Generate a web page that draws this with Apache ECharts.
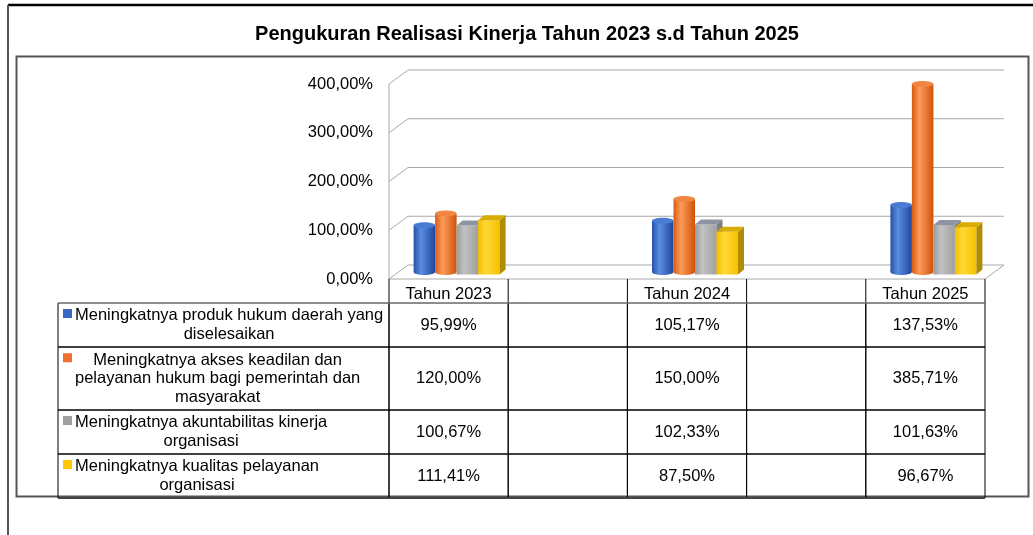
<!DOCTYPE html>
<html>
<head>
<meta charset="utf-8">
<script src="https://cdn.jsdelivr.net/npm/echarts@6/dist/echarts.min.js"></script>
<style>
  html, body { margin: 0; padding: 0; background: #fff; }
  #main { width: 1033px; height: 535px; }
</style>
</head>
<body>
<div id="main"></div>
<script>
// data (blank categories are the empty spacer columns of the original sheet)
const categories = ['Tahun 2023', '', 'Tahun 2024', '', 'Tahun 2025'];
const seriesNames = [
  'Meningkatnya produk hukum daerah yang\ndiselesaikan',
  'Meningkatnya akses keadilan dan\npelayanan hukum bagi pemerintah dan\nmasyarakat',
  'Meningkatnya akuntabilitas kinerja\norganisasi',
  'Meningkatnya kualitas pelayanan\norganisasi'
];
const produkHukum = [95.99, null, 105.17, null, 137.53];
const aksesKeadilan = [120.00, null, 150.00, null, 385.71];
const akuntabilitas = [100.67, null, 102.33, null, 101.63];
const kualitasPelayanan = [111.41, null, 87.50, null, 96.67];
const yTicks = [0, 100, 200, 300, 400];

const seriesValues = [produkHukum, aksesKeadilan, akuntabilitas, kualitasPelayanan];

// looks
const FONT = '"Liberation Sans", Arial, sans-serif';
const FS = 16.5;
const styles = [
  { shape: 'cyl', key: '#3a66c6', grad: ['#2650aa', '#5a8de2', '#21469a'], top: '#4a7cd4' },
  { shape: 'cyl', key: '#f07030', grad: ['#dc5a12', '#fb9c5a', '#d0520a'], top: '#f08642' },
  { shape: 'box', key: '#a0a0a0', grad: ['#9a9a9a', '#c2c2c2', '#a0a0a0'], top: '#8d95a5', side: '#7e7e7e' },
  { shape: 'box', key: '#ffc800', grad: ['#f4be00', '#ffd836', '#f6c200'], top: '#d8ac00', side: '#b08c06' }
];
const DX = 19, DY = -14;   // depth of the 3d floor
const BW = 21.5;           // bar width
const headerH = 24;
const rowHeights = [44, 63, 44, 44];
const labelLeft = 58, textLeft = 75, lineH = 18.5;

const fmt = v => v.toFixed(2).replace('.', ',') + '%';

const measure = document.createElement('canvas').getContext('2d');
measure.font = FS + 'px ' + FONT;

const myChart = echarts.init(document.getElementById('main'));

function grad(c) {
  return new echarts.graphic.LinearGradient(0, 0, 1, 0, [
    { offset: 0, color: c[0] }, { offset: 0.35, color: c[1] }, { offset: 1, color: c[2] }
  ]);
}

// back wall + floor lines
function renderFrame(params, api) {
  const t = api.value(1);
  const colW = api.size([1, 0])[0];
  const p = api.coord([0, t]);
  const x0 = p[0] - colW / 2;
  const x1 = api.coord([categories.length - 1, t])[0] + colW / 2;
  const y = p[1];
  const ln = { stroke: '#a8a8a8', lineWidth: 1 };
  const children = [
    { type: 'line', shape: { x1: x0 + DX, y1: y + DY, x2: x1 + DX, y2: y + DY }, style: ln },
    { type: 'line', shape: { x1: x0, y1: y, x2: x0 + DX, y2: y + DY }, style: ln }
  ];
  if (t === 0) {
    const yTop = api.coord([0, yTicks[yTicks.length - 1]])[1];
    children.push(
      { type: 'line', shape: { x1: x1, y1: y, x2: x1 + DX, y2: y + DY }, style: ln },
      { type: 'line', shape: { x1: x0, y1: y, x2: x1, y2: y }, style: ln },
      { type: 'line', shape: { x1: x0, y1: y, x2: x0, y2: yTop }, style: ln }
    );
  }
  return { type: 'group', children: children };
}

function makeBarRenderer(i) {
  const st = styles[i];
  return function (params, api) {
    const c = api.value(0), v = api.value(1);
    const cx = api.coord([c, 0])[0];
    const base = api.coord([c, 0])[1] - 7;
    const top = api.coord([c, v])[1] - 7;
    const left = cx - 2 * BW + i * BW + 8;
    if (st.shape === 'cyl') {
      return {
        type: 'group', children: [
          { type: 'ellipse', shape: { cx: left + BW / 2, cy: base, rx: BW / 2, ry: 3 }, style: { fill: grad(st.grad) } },
          { type: 'rect', shape: { x: left, y: top, width: BW, height: base - top }, style: { fill: grad(st.grad) } },
          { type: 'ellipse', shape: { cx: left + BW / 2, cy: top, rx: BW / 2, ry: 3 }, style: { fill: st.top } }
        ]
      };
    }
    const fb = base + 2.5, ft = top + 2.5, bx = 6, by = -5;
    return {
      type: 'group', children: [
        { type: 'rect', shape: { x: left, y: ft, width: BW, height: fb - ft }, style: { fill: grad(st.grad) } },
        { type: 'polygon', shape: { points: [[left + BW, ft], [left + BW + bx, ft + by], [left + BW + bx, fb + by], [left + BW, fb]] }, style: { fill: st.side } },
        { type: 'polygon', shape: { points: [[left, ft], [left + bx, ft + by], [left + BW + bx, ft + by], [left + BW, ft]] }, style: { fill: st.top } }
      ]
    };
  };
}

// data table under the axis
function renderTableRow(params, api) {
  const r = api.value(2);
  const colW = api.size([1, 0])[0];
  const y0 = api.coord([0, 0])[1];
  const xs = categories.map((_, c) => api.coord([c, 0])[0] - colW / 2);
  xs.push(xs[xs.length - 1] + colW);
  let top = y0 + headerH;
  for (let k = 0; k < r; k++) top += rowHeights[k];
  const h = rowHeights[r];
  const black = { stroke: '#000', lineWidth: 1, fill: null };
  const children = [];

  if (r === 0) {
    xs.forEach(x => children.push({ type: 'line', shape: { x1: x, y1: y0, x2: x, y2: top }, style: { stroke: '#000', lineWidth: 1 } }));
  }
  children.push({ type: 'rect', shape: { x: labelLeft, y: top, width: xs[0] - labelLeft, height: h }, style: black });
  categories.forEach((cat, c) => {
    children.push({ type: 'rect', shape: { x: xs[c], y: top, width: colW, height: h }, style: black });
    const v = seriesValues[r][c];
    if (v != null) {
      children.push({
        type: 'text',
        style: { text: fmt(v), x: xs[c] + colW / 2, y: top + h / 2, align: 'center', verticalAlign: 'middle', fontSize: FS, fontFamily: FONT, fill: '#000' }
      });
    }
  });
  if (r === 0) {
    children.push({ type: 'line', shape: { x1: labelLeft, y1: top, x2: xs[xs.length - 1], y2: top }, style: { stroke: '#9a9a9a', lineWidth: 1 } });
  }
  if (r === seriesNames.length - 1) {
    children.push({ type: 'line', shape: { x1: labelLeft, y1: top + h, x2: xs[xs.length - 1], y2: top + h }, style: { stroke: '#444', lineWidth: 2 } });
  }

  const lines = seriesNames[r].split('\n');
  const maxW = Math.max.apply(null, lines.map(l => measure.measureText(l).width));
  const blockTop = top + h / 2 - lines.length * lineH / 2;
  children.push({ type: 'rect', shape: { x: 63, y: blockTop + 2.5, width: 9, height: 9 }, style: { fill: styles[r].key } });
  lines.forEach((l, k) => {
    children.push({
      type: 'text',
      style: { text: l, x: textLeft + maxW / 2, y: blockTop + lineH * (k + 0.5), align: 'center', verticalAlign: 'middle', fontSize: FS, fontFamily: FONT, fill: '#000' }
    });
  });
  return { type: 'group', children: children };
}

const series = [
  {
    type: 'custom',
    name: 'frame',
    renderItem: renderFrame,
    data: yTicks.map(t => [0, t]),
    encode: { x: 0, y: 1 },
    silent: true,
    z: 1
  }
];
seriesValues.forEach((vals, i) => {
  series.push({
    type: 'custom',
    name: seriesNames[i].replace(/\n/g, ' '),
    renderItem: makeBarRenderer(i),
    data: vals.map((v, c) => (v == null ? null : [c, v])).filter(d => d),
    encode: { x: 0, y: 1 },
    z: 2
  });
});
series.push({
  type: 'custom',
  name: 'table',
  renderItem: renderTableRow,
  data: seriesNames.map((n, r) => [0, 0, r]),
  encode: { x: 0, y: 1 },
  silent: true,
  z: 3
});

const options = {
  animation: false,
  title: {
    text: 'Pengukuran Realisasi Kinerja Tahun 2023 s.d Tahun 2025',
    left: 522,
    top: 19,
    textAlign: 'center',
    textStyle: { fontSize: 20, fontWeight: 'bold', color: '#000', fontFamily: FONT }
  },
  grid: { left: 389, right: 48, top: 84, bottom: 256 },
  xAxis: {
    type: 'category',
    data: categories,
    axisLine: { show: false },
    axisTick: { show: false },
    axisLabel: { interval: 0, margin: 7, fontSize: FS, color: '#000', fontFamily: FONT }
  },
  yAxis: {
    type: 'value',
    min: 0,
    max: 400,
    interval: 100,
    axisLine: { show: false },
    axisTick: { show: false },
    splitLine: { show: false },
    axisLabel: { margin: 16, fontSize: FS, color: '#000', fontFamily: FONT, formatter: fmt, padding: [6, 0, 0, 0] }
  },
  graphic: [
    { type: 'line', shape: { x1: 8, y1: 5, x2: 1033, y2: 5 }, style: { stroke: '#000', lineWidth: 2.5 } },
    { type: 'line', shape: { x1: 8, y1: 5, x2: 8, y2: 535 }, style: { stroke: '#555', lineWidth: 2 } },
    { type: 'rect', shape: { x: 16.5, y: 56.5, width: 1012, height: 440 }, style: { stroke: '#555', lineWidth: 2, fill: null }, z: -1 }
  ],
  series: series
};
myChart.setOption(options);
</script>
</body>
</html>
